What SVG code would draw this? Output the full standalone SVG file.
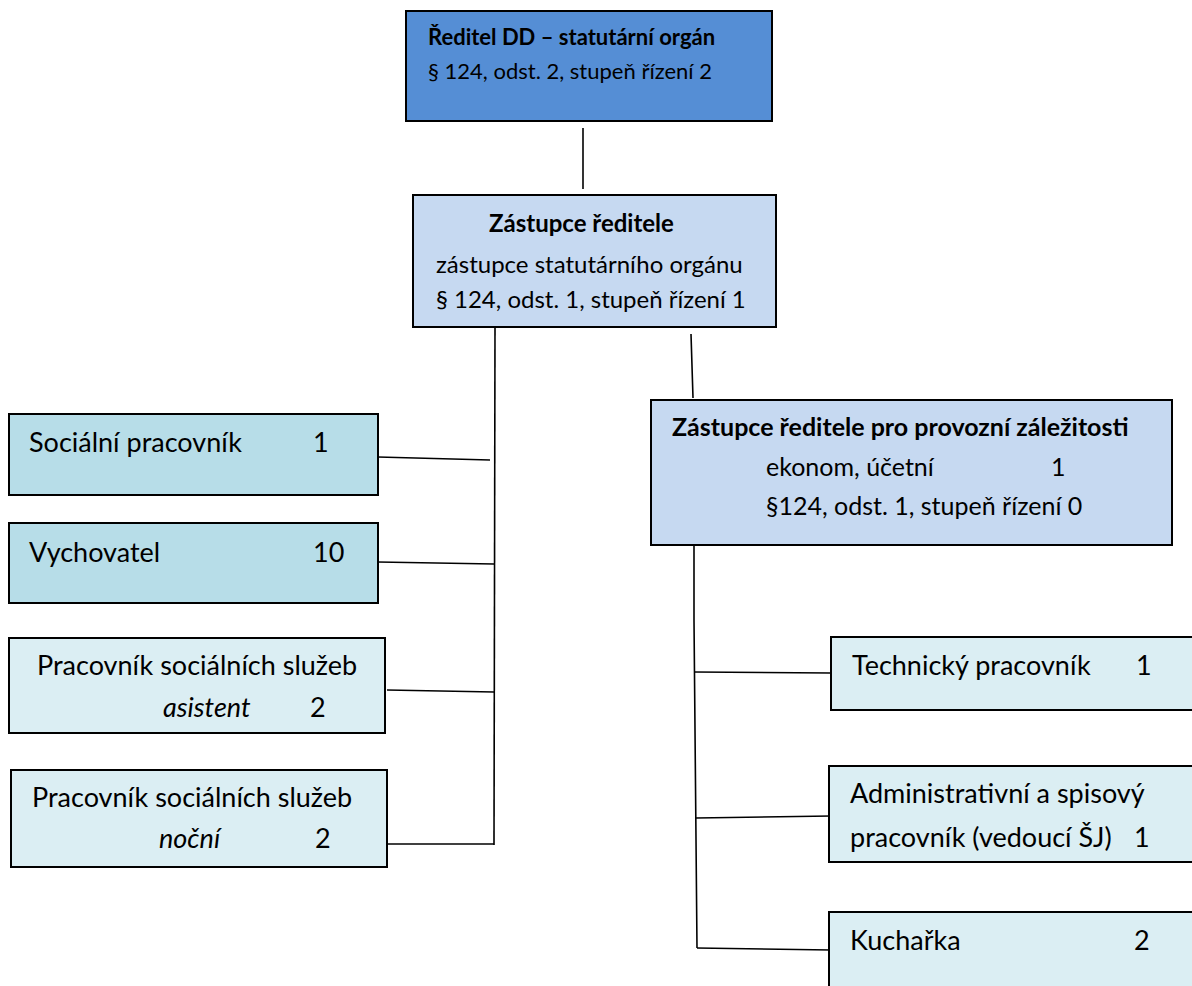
<svg xmlns="http://www.w3.org/2000/svg" width="1192" height="986" viewBox="0 0 1192 986">
<style>
.box{stroke:#000;stroke-width:2}
.t{font-family:Lato,"Open Sans",sans-serif;font-size:22px;fill:#000}
.m{font-size:24px}
.n{font-size:25px}
.l{font-size:27px}
.b{font-weight:bold}
.i{font-style:italic}
.c{stroke:#000;stroke-width:1.6;fill:none}
</style>
<rect width="1192" height="986" fill="#fff"/>
<g id="connectors">
<line class="c" x1="583" y1="128" x2="583" y2="189"/>
<line class="c" x1="495" y1="327" x2="494" y2="845"/>
<line class="c" x1="691" y1="334" x2="693" y2="398"/>
<line class="c" x1="378" y1="457" x2="490" y2="460"/>
<line class="c" x1="378" y1="562" x2="494" y2="564"/>
<line class="c" x1="387" y1="690" x2="494" y2="692"/>
<line class="c" x1="387" y1="844" x2="494" y2="844"/>
<polyline class="c" points="694,545 694,620 697,948"/>
<line class="c" x1="694" y1="672" x2="831" y2="673"/>
<line class="c" x1="696" y1="818" x2="831" y2="816"/>
<line class="c" x1="697" y1="948" x2="831" y2="950"/>
</g>
<g id="reditel">
<rect class="box" x="406" y="11" width="366" height="110" fill="#558ed5"/>
<text class="t b" x="428" y="45">Ředitel DD – statutární orgán</text>
<text class="t" x="428" y="79">§ 124, odst. 2, stupeň řízení 2</text>
</g>
<g id="zastupce">
<rect class="box" x="413" y="195" width="363" height="132" fill="#c6d9f1"/>
<text class="t m b" x="489" y="232">Zástupce ředitele</text>
<text class="t m" x="436" y="273">zástupce statutárního orgánu</text>
<text class="t m" x="436" y="308">§ 124, odst. 1, stupeň řízení 1</text>
</g>
<g id="provozni">
<rect class="box" x="651" y="400" width="521" height="145" fill="#c6d9f1"/>
<text class="t n b" x="672" y="436">Zástupce ředitele pro provozní záležitosti</text>
<text class="t n" x="766" y="476">ekonom, účetní</text>
<text class="t n" x="1051" y="476">1</text>
<text class="t n" x="766" y="515">§124, odst. 1, stupeň řízení 0</text>
</g>
<g id="socialni">
<rect class="box" x="9" y="414" width="369" height="81" fill="#b7dde8"/>
<text class="t l" x="29" y="452">Sociální pracovník</text>
<text class="t l" x="313" y="452">1</text>
</g>
<g id="vychovatel">
<rect class="box" x="9" y="523" width="369" height="80" fill="#b7dde8"/>
<text class="t l" x="29" y="562">Vychovatel</text>
<text class="t l" x="313" y="562">10</text>
</g>
<g id="asistent">
<rect class="box" x="9" y="638" width="376" height="95" fill="#dbeef3"/>
<text class="t l" x="37" y="675">Pracovník sociálních služeb</text>
<text class="t l i" x="163" y="717">asistent</text>
<text class="t l" x="310" y="717">2</text>
</g>
<g id="nocni">
<rect class="box" x="11" y="770" width="376" height="97" fill="#dbeef3"/>
<text class="t l" x="32" y="807">Pracovník sociálních služeb</text>
<text class="t l i" x="159" y="848">noční</text>
<text class="t l" x="315" y="848">2</text>
</g>
<g id="technicky">
<rect class="box" x="831" y="637" width="380" height="73" fill="#dbeef3"/>
<text class="t l" x="852" y="675">Technický pracovník</text>
<text class="t l" x="1136" y="675">1</text>
</g>
<g id="administrativni">
<rect class="box" x="829" y="766" width="380" height="96" fill="#dbeef3"/>
<text class="t l" x="850" y="803">Administrativní a spisový</text>
<text class="t l" x="850" y="847">pracovník (vedoucí ŠJ)</text>
<text class="t l" x="1134" y="847">1</text>
</g>
<g id="kucharka">
<rect class="box" x="829" y="912" width="380" height="90" fill="#dbeef3"/>
<text class="t l" x="850" y="950">Kuchařka</text>
<text class="t l" x="1134" y="950">2</text>
</g>
</svg>
